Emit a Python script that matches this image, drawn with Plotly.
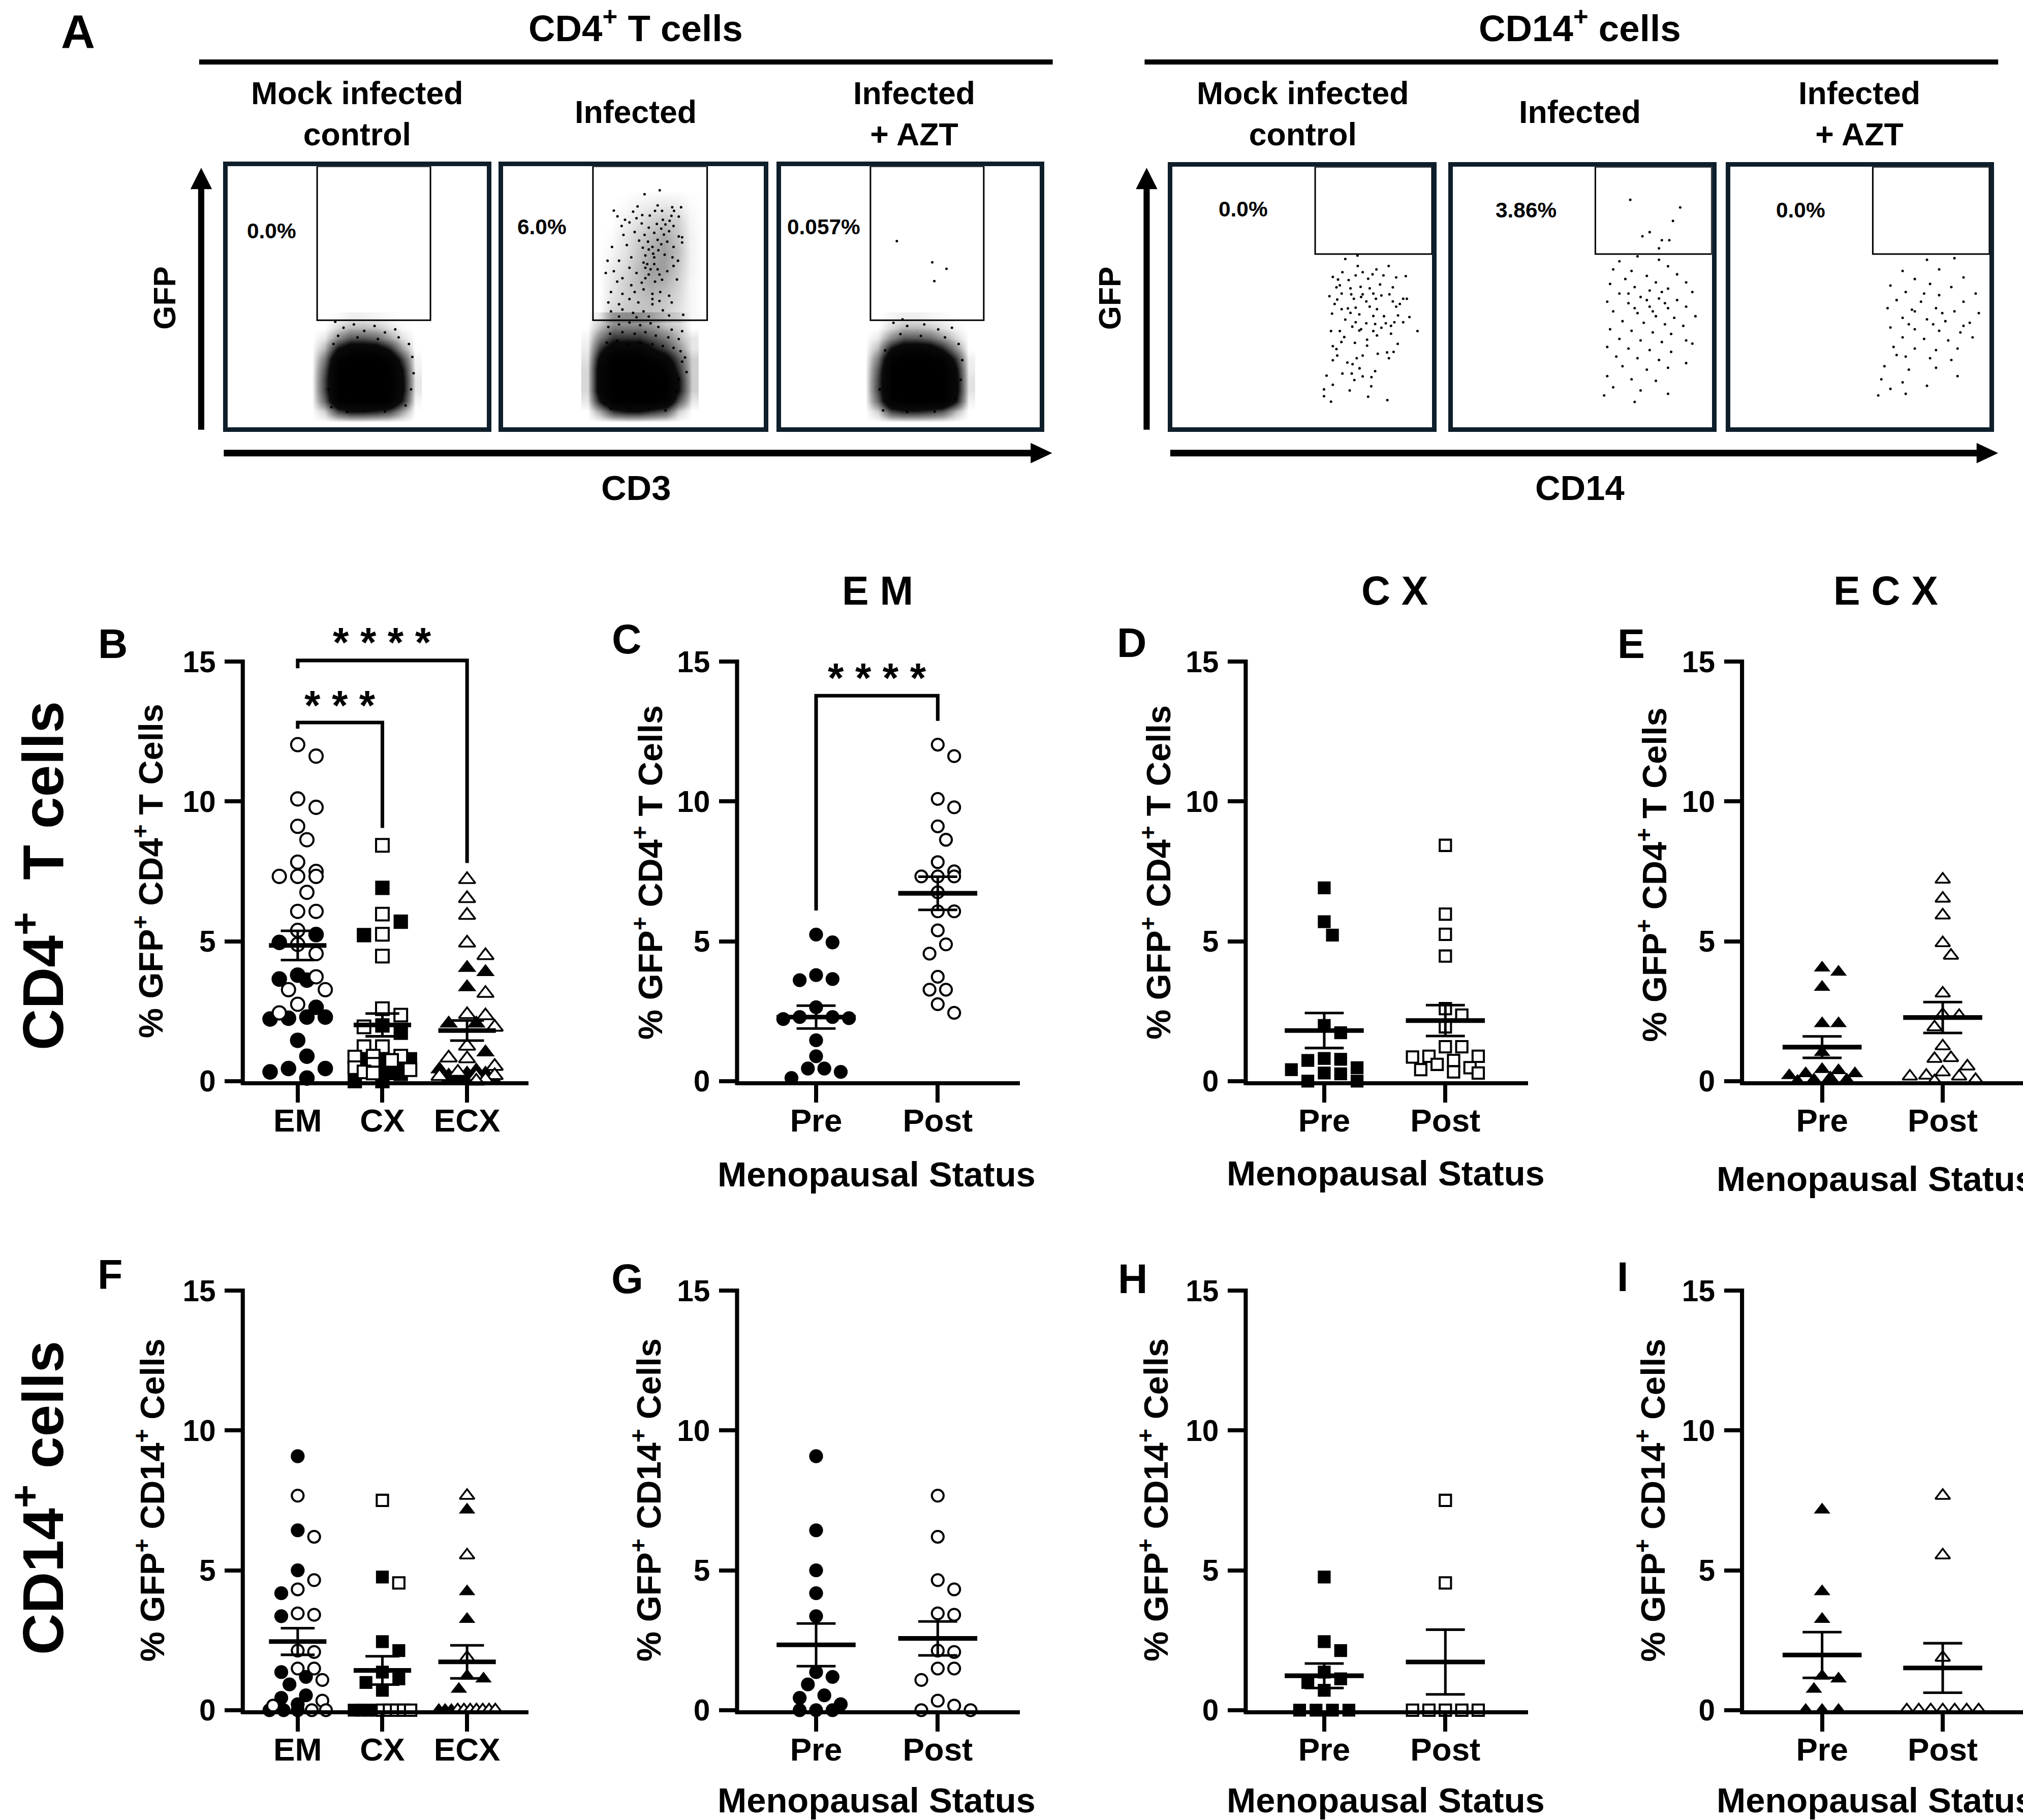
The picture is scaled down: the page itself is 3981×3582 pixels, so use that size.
import math
import statistics
import plotly.graph_objects as go

# ======================= DATA =======================
# % GFP+ cells per donor
em_cd4_pre = [5.24, 4.96, 3.79, 3.61, 3.65, 2.64, 2.22, 2.25, 2.29, 2.29, 1.46, 0.89, 0.33, 0.45, 0.45, 0.11]
em_cd4_post = [12.03, 11.62, 10.09, 9.79, 9.11, 8.63, 7.83, 7.50, 7.32, 7.32, 7.32, 6.75, 6.07, 6.07,
               5.39, 4.89, 4.56, 3.73, 3.27, 3.27, 2.75, 2.44]
cx_cd4_pre = [6.91, 5.70, 5.22, 1.99, 1.73, 0.81, 0.78, 0.74, 0.48, 0.41, 0.29, 0.26, 0.0, 0.0]
cx_cd4_post = [8.43, 5.97, 5.25, 4.47, 2.59, 2.36, 1.94, 1.23, 1.23, 0.89, 0.89, 0.86, 0.74, 0.60,
               0.48, 0.41, 0.33, 0.29]
ecx_cd4_pre = [4.05, 3.90, 3.36, 2.06, 2.06, 1.03, 0.42, 0.38, 0.27, 0.27, 0.20, 0.12, 0.05, 0.05, 0.0]
ecx_cd4_post = [7.21, 6.53, 5.93, 4.94, 4.49, 3.14, 2.38, 2.34, 1.93, 1.25, 0.83, 0.80, 0.53, 0.32,
                0.20, 0.17, 0.17, 0.05, 0.0]

em_cd14_pre = [9.08, 6.43, 5.00, 4.18, 3.36, 1.36, 1.19, 0.92, 0.53, 0.44, 0.21, 0.0, 0.0, 0.0]
em_cd14_post = [7.67, 6.20, 4.65, 4.32, 3.46, 3.41, 2.13, 2.08, 1.49, 1.49, 1.08, 0.34, 0.16, 0.0, 0.0]
cx_cd14_pre = [4.76, 2.45, 2.13, 1.36, 1.12, 0.99, 0.71, 0.0, 0.0, 0.0, 0.0]
cx_cd14_post = [7.50, 4.55, 0.0, 0.0, 0.0, 0.0, 0.0]
ecx_cd14_pre = [7.16, 4.24, 3.25, 1.22, 1.12, 0.75, 0.0, 0.0, 0.0]
ecx_cd14_post = [7.67, 5.54, 1.88, 0.0, 0.0, 0.0, 0.0, 0.0, 0.0, 0.0]

tissue_labels = ["EM", "CX", "ECX"]
status_labels = ["Pre", "Post"]
y_ticks = [0, 5, 10, 15]

# significance brackets: (from cat, to cat, bar y, left end y, right end y, stars, stars y)
sig_B = [(0, 2, 15.04, 14.76, 7.8, "****", 16.0),
         (0, 1, 12.82, 12.6, 9.05, "***", 13.75)]
sig_C = [(0, 1, 13.78, 6.1, 12.88, "****", 14.73)]

# ---- flow cytometry (linear channel units 0-1000) ----
flow_pct = {"cd4": ["0.0%", "6.0%", "0.057%"], "cd14": ["0.0%", "3.86%", "0.0%"]}
cd4_gate = (345, 783, 410, 1000)
cd14_gate = (550, 1000, 665, 1000)
grid_x = [325, 375, 425, 475, 525, 575, 625, 675, 725]
grid_y = [20, 60, 100, 140, 180, 220, 260, 300, 340, 380, 420]
cd4_mock_density = [
    [0.00, 0.00, 0.00, 0.00, 0.00, 0.00, 0.00, 0.00, 0.00],
    [0.00, 0.10, 0.45, 0.60, 0.60, 0.55, 0.45, 0.20, 0.00],
    [0.00, 0.35, 0.95, 1.00, 1.00, 1.00, 1.00, 0.55, 0.02],
    [0.00, 0.45, 1.00, 1.00, 1.00, 1.00, 1.00, 0.65, 0.05],
    [0.00, 0.45, 1.00, 1.00, 1.00, 1.00, 1.00, 0.65, 0.05],
    [0.00, 0.40, 1.00, 1.00, 1.00, 1.00, 1.00, 0.60, 0.03],
    [0.00, 0.30, 0.90, 1.00, 1.00, 1.00, 0.90, 0.45, 0.02],
    [0.00, 0.15, 0.60, 0.80, 0.80, 0.75, 0.55, 0.20, 0.00],
    [0.00, 0.05, 0.25, 0.40, 0.40, 0.35, 0.20, 0.06, 0.00],
    [0.00, 0.00, 0.08, 0.15, 0.15, 0.12, 0.06, 0.01, 0.00],
    [0.00, 0.00, 0.01, 0.03, 0.03, 0.02, 0.01, 0.00, 0.00]]
cd4_inf_density = [
    [0.00, 0.00, 0.00, 0.00, 0.00, 0.00, 0.00, 0.00, 0.00],
    [0.00, 0.20, 0.50, 0.60, 0.60, 0.50, 0.40, 0.10, 0.00],
    [0.05, 0.60, 1.00, 1.00, 1.00, 1.00, 0.90, 0.40, 0.05],
    [0.08, 0.80, 1.00, 1.00, 1.00, 1.00, 1.00, 0.60, 0.10],
    [0.08, 0.80, 1.00, 1.00, 1.00, 1.00, 1.00, 0.60, 0.10],
    [0.08, 0.80, 1.00, 1.00, 1.00, 1.00, 0.90, 0.50, 0.10],
    [0.06, 0.70, 1.00, 1.00, 1.00, 0.90, 0.70, 0.40, 0.10],
    [0.04, 0.50, 0.80, 0.80, 0.80, 0.60, 0.45, 0.25, 0.05],
    [0.02, 0.30, 0.50, 0.50, 0.50, 0.40, 0.30, 0.15, 0.05],
    [0.00, 0.15, 0.30, 0.30, 0.30, 0.25, 0.15, 0.10, 0.00],
    [0.00, 0.05, 0.15, 0.15, 0.15, 0.10, 0.05, 0.05, 0.00]]
cd4_azt_density = [
    [0.00, 0.00, 0.00, 0.00, 0.00, 0.00, 0.00, 0.00, 0.00],
    [0.00, 0.10, 0.45, 0.55, 0.55, 0.50, 0.40, 0.15, 0.00],
    [0.00, 0.35, 0.95, 1.00, 1.00, 1.00, 1.00, 0.60, 0.03],
    [0.00, 0.45, 1.00, 1.00, 1.00, 1.00, 1.00, 0.70, 0.06],
    [0.00, 0.45, 1.00, 1.00, 1.00, 1.00, 1.00, 0.70, 0.06],
    [0.00, 0.40, 1.00, 1.00, 1.00, 1.00, 1.00, 0.65, 0.04],
    [0.00, 0.30, 0.90, 1.00, 1.00, 1.00, 0.90, 0.50, 0.03],
    [0.00, 0.15, 0.60, 0.80, 0.80, 0.75, 0.55, 0.25, 0.00],
    [0.00, 0.05, 0.25, 0.40, 0.40, 0.35, 0.22, 0.08, 0.00],
    [0.00, 0.00, 0.08, 0.15, 0.15, 0.12, 0.06, 0.02, 0.00],
    [0.00, 0.00, 0.02, 0.03, 0.03, 0.02, 0.01, 0.00, 0.00]]
gate_grid_x = [370, 420, 470, 520, 570, 620, 670, 720, 770]
gate_grid_y = [430, 490, 550, 610, 670, 730, 790, 850, 910]
cd4_inf_gate_density = [
    [0.00, 0.10, 0.12, 0.12, 0.12, 0.10, 0.06, 0.02, 0.00],
    [0.00, 0.06, 0.10, 0.12, 0.14, 0.12, 0.08, 0.02, 0.00],
    [0.00, 0.05, 0.10, 0.14, 0.18, 0.16, 0.10, 0.02, 0.00],
    [0.00, 0.04, 0.08, 0.14, 0.20, 0.20, 0.12, 0.03, 0.00],
    [0.00, 0.02, 0.06, 0.12, 0.18, 0.20, 0.14, 0.03, 0.00],
    [0.00, 0.01, 0.05, 0.10, 0.14, 0.18, 0.12, 0.03, 0.00],
    [0.00, 0.00, 0.03, 0.06, 0.10, 0.12, 0.10, 0.02, 0.00],
    [0.00, 0.00, 0.01, 0.03, 0.04, 0.05, 0.04, 0.01, 0.00],
    [0.00, 0.00, 0.00, 0.00, 0.00, 0.00, 0.00, 0.00, 0.00]]
cd4_mock_events = [
    (415, 404), (447, 381), (487, 394), (527, 369), (567, 388), (607, 363), (647, 375), (426, 350), (501, 344),
    (580, 338), (660, 344), (700, 319), (713, 269), (718, 207), (708, 145), (687, 83), (400, 77), (389, 145),
    (408, 319), (461, 58), (607, 60)]
cd4_inf_events = [
    (601, 908), (543, 893), (593, 850), (649, 843), (683, 843), (516, 846), (425, 830), (499, 826), (583, 829), (610, 829),
    (656, 829), (534, 813), (439, 808), (563, 811), (646, 810), (674, 807), (468, 795), (512, 801), (613, 795), (639, 791),
    (485, 785), (532, 781), (590, 779), (623, 777), (654, 771), (455, 771), (559, 765), (607, 761), (637, 751), (505, 748),
    (543, 737), (580, 745), (617, 738), (674, 731), (687, 728), (462, 737), (522, 715), (556, 711), (593, 718), (630, 711),
    (687, 708), (418, 691), (475, 698), (536, 688), (573, 691), (607, 701), (654, 691), (401, 638), (445, 638), (492, 651),
    (546, 658), (580, 651), (620, 661), (650, 651), (671, 638), (394, 591), (425, 598), (458, 571), (485, 611), (512, 591),
    (553, 625), (566, 605), (600, 585), (630, 598), (654, 618), (438, 558), (492, 544), (532, 554), (546, 571), (583, 558),
    (610, 565), (667, 566), (414, 518), (458, 511), (505, 518), (539, 528), (573, 511), (603, 518), (637, 504), (404, 478),
    (445, 471), (485, 491), (519, 478), (573, 491), (600, 484), (647, 478), (414, 444), (458, 451), (499, 438), (539, 444),
    (573, 471), (613, 448), (637, 428), (691, 431), (445, 424), (512, 421), (559, 424), (546, 611), (580, 625), (559, 585),
    (593, 605), (539, 631), (576, 665), (559, 681), (596, 678),
    (404, 384), (445, 394), (485, 401), (526, 391), (566, 398), (596, 384), (647, 374), (687, 368), (411, 358), (458, 364),
    (505, 358), (546, 364), (586, 351), (634, 344), (674, 338), (398, 324), (438, 331), (479, 318), (526, 324), (573, 318),
    (613, 311), (654, 304), (681, 291), (698, 267), (687, 251), (704, 211), (674, 184), (660, 137), (640, 104), (623, 64),
    (559, 71), (485, 71), (414, 71), (391, 91)]
cd4_azt_events = [
    (447, 713), (584, 632), (639, 607), (592, 560), (469, 413),
    (434, 400), (487, 388), (553, 394), (607, 375), (660, 381), (461, 357), (540, 350), (633, 344), (686, 319), (700, 257),
    (694, 182), (673, 108), (394, 64), (381, 145), (402, 294), (487, 58), (593, 60)]
cd14_mock_events = [
    (666, 646), (713, 659), (714, 619), (833, 619), (786, 606), (655, 595), (733, 595), (771, 587), (706, 583), (618, 577),
    (638, 567), (679, 565), (754, 570), (813, 583), (862, 575), (899, 580), (645, 545), (686, 533), (725, 539), (760, 533),
    (800, 548), (849, 537), (632, 537), (652, 513), (689, 510), (733, 510), (774, 513), (805, 506), (836, 510), (605, 503),
    (635, 490), (699, 493), (727, 500), (747, 483), (784, 493), (889, 493), (903, 493), (849, 483), (876, 473), (625, 473),
    (652, 453), (676, 456), (706, 459), (760, 463), (788, 453), (862, 463), (615, 436), (686, 439), (720, 433), (774, 427),
    (815, 426), (869, 429), (913, 423), (666, 413), (706, 403), (747, 399), (781, 396), (822, 399), (855, 403), (889, 403),
    (693, 386), (727, 376), (805, 382), (842, 389), (611, 369), (645, 369), (720, 371), (774, 369), (842, 359), (944, 369),
    (662, 346), (788, 352), (750, 336), (703, 324), (651, 327), (868, 320), (618, 311), (632, 300), (750, 313), (827, 287),
    (852, 289), (635, 275), (733, 275), (791, 282), (710, 265), (618, 257), (834, 265), (674, 248), (694, 242), (721, 226),
    (781, 215), (655, 206), (691, 206), (733, 195), (767, 192), (594, 198), (701, 181), (618, 163), (766, 157), (584, 145),
    (683, 141), (584, 119), (754, 117), (611, 98), (828, 104)]
cd14_inf_events = [
    (685, 873), (878, 844), (850, 792), (760, 749), (732, 733), (807, 718), (836, 718), (796, 687),
    (713, 656), (643, 637), (796, 643), (619, 606), (690, 600), (831, 618), (749, 581), (866, 587), (666, 569), (784, 556),
    (607, 550), (901, 556), (702, 538), (760, 525), (831, 532), (643, 513), (925, 519), (725, 500), (796, 494), (866, 488),
    (596, 482), (678, 476), (760, 463), (831, 457), (901, 463), (619, 445), (713, 438), (784, 426), (855, 420), (937, 426),
    (655, 407), (737, 401), (819, 395), (890, 389), (607, 376), (690, 370), (772, 364), (843, 358), (643, 339), (725, 333),
    (807, 327), (901, 333), (596, 308), (678, 302), (760, 296), (843, 289), (631, 271), (713, 265), (796, 258), (655, 234),
    (749, 221), (831, 228), (596, 196), (690, 184), (784, 178), (619, 153), (725, 141), (584, 122), (702, 97), (831, 128),
    (901, 246), (925, 321), (749, 488), (807, 519), (702, 457), (772, 445), (678, 513), (819, 476)]
cd14_azt_events = [
    (759, 643), (865, 649), (665, 600), (806, 606), (712, 569), (900, 575), (618, 544), (771, 550), (853, 538), (947, 513),
    (677, 519), (806, 507), (642, 488), (736, 482), (900, 482), (607, 457), (701, 451), (794, 457), (865, 445), (959, 438),
    (665, 420), (759, 414), (830, 407), (924, 401), (618, 383), (712, 376), (806, 370), (888, 364), (665, 345), (748, 339),
    (841, 333), (935, 345), (630, 308), (712, 302), (794, 296), (877, 302), (677, 271), (771, 265), (853, 258), (595, 234),
    (689, 221), (794, 228), (583, 184), (665, 172), (759, 159), (618, 147), (571, 122), (677, 128), (877, 196), (712, 445),
    (783, 395), (689, 395), (818, 438), (748, 513), (642, 277), (900, 389)]

# ======================= LAYOUT CONSTANTS =======================
# positions are given in reference pixels (3981 x 3582); S compensates the page scale of the viewer
REF_W, REF_H = 3981, 3582
S = 4021 / 3981
W, H = round(REF_W * S), round(REF_H * S)
FONT = "Liberation Sans, Arial, Helvetica, sans-serif"
NAVY = "#0e1e2a"


def s(v):
    return v * S


def fx(p):
    return p / REF_W


def fy(p):
    return 1.0 - p / REF_H


COL_AXIS = [473, 1436, 2427, 3394]
COL_RIGHT = [1030, 1987, 2977, 3947]
COL_CAT0 = [580, 1590, 2580, 3550]
COL_PPU = [165, 237, 236, 235]
ROW_ZERO = [2126, 3363]
PPU_Y = 55.0
YTOP = 16.4

STYLE = {
    ("circle", False): dict(symbol="circle", size=27, color="black", lw=0),
    ("circle", True): dict(symbol="circle", size=23, color="white", lw=4),
    ("square", False): dict(symbol="square", size=25, color="black", lw=0),
    ("square", True): dict(symbol="square", size=22, color="white", lw=4),
    ("triangle-up", False): dict(symbol="triangle-up", size=28, color="black", lw=0),
    ("triangle-up", True): dict(symbol="triangle-up", size=25, color="white", lw=3.5),
}

CD4_TITLE = "% GFP<sup>+</sup> CD4<sup>+</sup> T Cells"
CD14_TITLE = "% GFP<sup>+</sup> CD14<sup>+</sup> Cells"

panels = [
    dict(k=1, col=0, row=0, letter="B", cats=tissue_labels, ytitle=CD4_TITLE, sigs=sig_B, mscale=1.12,
         groups=[[(em_cd4_pre, "circle", False), (em_cd4_post, "circle", True)],
                 [(cx_cd4_pre, "square", False), (cx_cd4_post, "square", True)],
                 [(ecx_cd4_pre, "triangle-up", False), (ecx_cd4_post, "triangle-up", True)]]),
    dict(k=2, col=1, row=0, letter="C", cats=status_labels, ytitle=CD4_TITLE, sigs=sig_C, mscale=1.0,
         groups=[[(em_cd4_pre, "circle", False)], [(em_cd4_post, "circle", True)]]),
    dict(k=3, col=2, row=0, letter="D", cats=status_labels, ytitle=CD4_TITLE, sigs=[], mscale=1.0,
         groups=[[(cx_cd4_pre, "square", False)], [(cx_cd4_post, "square", True)]]),
    dict(k=4, col=3, row=0, letter="E", cats=status_labels, ytitle=CD4_TITLE, sigs=[], mscale=1.0,
         groups=[[(ecx_cd4_pre, "triangle-up", False)], [(ecx_cd4_post, "triangle-up", True)]]),
    dict(k=5, col=0, row=1, letter="F", cats=tissue_labels, ytitle=CD14_TITLE, sigs=[], mscale=1.0,
         groups=[[(em_cd14_pre, "circle", False), (em_cd14_post, "circle", True)],
                 [(cx_cd14_pre, "square", False), (cx_cd14_post, "square", True)],
                 [(ecx_cd14_pre, "triangle-up", False), (ecx_cd14_post, "triangle-up", True)]]),
    dict(k=6, col=1, row=1, letter="G", cats=status_labels, ytitle=CD14_TITLE, sigs=[], mscale=1.0,
         groups=[[(em_cd14_pre, "circle", False)], [(em_cd14_post, "circle", True)]]),
    dict(k=7, col=2, row=1, letter="H", cats=status_labels, ytitle=CD14_TITLE, sigs=[], mscale=1.0,
         groups=[[(cx_cd14_pre, "square", False)], [(cx_cd14_post, "square", True)]]),
    dict(k=8, col=3, row=1, letter="I", cats=status_labels, ytitle=CD14_TITLE, sigs=[], mscale=1.0,
         groups=[[(ecx_cd14_pre, "triangle-up", False)], [(ecx_cd14_post, "triangle-up", True)]]),
]

LETTER_POS = {"B": (220, 1266), "C": (1221, 1257), "D": (2205, 1264), "E": (3178, 1266),
              "F": (214, 2507), "G": (1222, 2515), "H": (2207, 2515), "I": (3161, 2511)}
YTITLE_POS = {1: (290, 1713), 2: (1263, 1716), 3: (2253, 1716), 4: (3219, 1720),
              5: (293, 2950), 6: (1260, 2950), 7: (2248, 2950), 8: (3216, 2950)}
XTITLE_POS = {2: (1708, 2310), 3: (2700, 2308), 4: (3654, 2319),
              6: (1708, 3541), 7: (2700, 3541), 8: (3654, 3541)}
SECTIONS = [("E M", 1710, 1162), ("C X", 2717, 1162), ("E C X", 3674, 1162)]

fig = go.Figure()
layout = dict(width=W, height=H, margin=dict(l=0, r=0, t=0, b=0), paper_bgcolor="white",
              plot_bgcolor="rgba(0,0,0,0)", showlegend=False, font=dict(family=FONT, color="black"))
shapes, annotations = [], []


def bold(size):
    return dict(family=FONT, size=s(size), color="black", weight="bold")


def add_text(text, x, y, size, angle=0):
    annotations.append(dict(text=text, x=fx(x), y=fy(y), xref="paper", yref="paper", showarrow=False,
                            textangle=angle, xanchor="center", yanchor="middle", font=bold(size)))


def ax_ids(k):
    sfx = "" if k == 1 else str(k)
    return "xaxis" + sfx, "yaxis" + sfx, "x" + sfx, "y" + sfx


def swarm_offsets(vals, ppu_x, maxhalf, diam=28.0, step=32.0):
    n = len(vals)
    order = sorted(range(n), key=lambda i: -vals[i])
    counts = {}
    for v in vals:
        counts[v] = counts.get(v, 0) + 1
    offs = [0.0] * n
    placed, done = [], set()
    kmax = int(maxhalf // (step / 2))
    cands = [0.0]
    for kk in range(1, kmax + 1):
        cands += [kk * step / 2, -kk * step / 2]
    for i in order:
        if i in done:
            continue
        v = vals[i]
        yy = v * PPU_Y
        if counts[v] >= 3:
            grp = [j for j in order if vals[j] == v]
            m = len(grp)
            st = min(step, 2 * maxhalf / (m - 1))
            for q, j in enumerate(grp):
                offs[j] = (q - (m - 1) / 2) * st
                placed.append((offs[j], yy))
                done.add(j)
            continue
        best, bestc, bestd = None, 0.0, -1
        for c in cands:
            d = min((math.hypot(c - px, yy - py) for px, py in placed), default=1e9)
            if d >= diam:
                best = c
                break
            if d > bestd:
                bestd, bestc = d, c
        if best is None:
            best = bestc
        offs[i] = best
        placed.append((best, yy))
        done.add(i)
    return [o / ppu_x for o in offs]


# ======================= SCATTER PANELS B-I =======================
for p in panels:
    xa, ya, xr, yr = ax_ids(p["k"])
    c, r = p["col"], p["row"]
    axp, rgt, c0, ppx = COL_AXIS[c], COL_RIGHT[c], COL_CAT0[c], COL_PPU[c]
    zero = ROW_ZERO[r]
    r0 = -(c0 - axp) / ppx
    r1 = r0 + (rgt - axp) / ppx
    layout[xa] = dict(domain=[fx(axp), fx(rgt)], range=[r0, r1], anchor=yr, showline=True, linewidth=s(8),
                      linecolor="black", ticks="outside", ticklen=s(34), tickwidth=s(8), tickcolor="black",
                      tickmode="array", tickvals=list(range(len(p["cats"]))), ticktext=p["cats"],
                      tickfont=bold(63), ticklabelstandoff=int(round(s(-20))), showgrid=False, zeroline=False,
                      fixedrange=True)
    layout[ya] = dict(domain=[fy(zero), fy(zero - YTOP * PPU_Y)], range=[0, YTOP], anchor=xr, showline=False,
                      ticks="outside", ticklen=s(34), tickwidth=s(8), tickcolor="black", tickmode="array",
                      tickvals=y_ticks, ticktext=[str(t) for t in y_ticks], tickfont=bold(58),
                      ticklabelstandoff=int(round(s(6))), showgrid=False, zeroline=False, fixedrange=True)
    shapes.append(dict(type="line", xref="paper", yref="paper", x0=fx(axp), x1=fx(axp),
                       y0=fy(zero + 8), y1=fy(zero - 15 * PPU_Y - 4), line=dict(color="black", width=s(8))))

    three = len(p["cats"]) == 3
    maxhalf = 55 if three else 70
    mean_half = (56 if three else 77) / ppx
    sem_half = (33 if three else 38) / ppx
    for ci, subs in enumerate(p["groups"]):
        allv, styles = [], []
        for vals, sym, is_open in subs:
            for v in vals:
                allv.append(v)
                styles.append((sym, is_open))
        offs = swarm_offsets(allv, ppx, maxhalf, diam=28.0 * p["mscale"], step=32.0 * p["mscale"])
        for st in dict.fromkeys(styles):
            idx = [i for i in range(len(allv)) if styles[i] == st]
            sd = STYLE[st]
            mk = dict(symbol=sd["symbol"], size=s(sd["size"] * p["mscale"]), color=sd["color"],
                      line=dict(color="black", width=s(sd["lw"])))
            fig.add_trace(go.Scatter(x=[ci + offs[i] for i in idx], y=[allv[i] for i in idx], mode="markers",
                                     marker=mk, xaxis=xr, yaxis=yr, cliponaxis=False, hoverinfo="skip"))
        m = statistics.mean(allv)
        se = statistics.stdev(allv) / math.sqrt(len(allv))
        fig.add_trace(go.Scatter(x=[ci - sem_half, ci + sem_half, None, ci, ci, None, ci - sem_half, ci + sem_half],
                                 y=[m + se, m + se, None, m + se, m - se, None, m - se, m - se], mode="lines",
                                 line=dict(color="black", width=s(5)), xaxis=xr, yaxis=yr, hoverinfo="skip"))
        fig.add_trace(go.Scatter(x=[ci - mean_half, ci + mean_half], y=[m, m], mode="lines",
                                 line=dict(color="black", width=s(9)), xaxis=xr, yaxis=yr, hoverinfo="skip"))
    for (a, b, ybar, yl, yrr, stars, ys) in p["sigs"]:
        fig.add_trace(go.Scatter(x=[a, a, b, b], y=[yl, ybar, ybar, yrr], mode="lines",
                                 line=dict(color="black", width=s(7)), xaxis=xr, yaxis=yr, hoverinfo="skip"))
        annotations.append(dict(text=" ".join(stars), x=(a + b) / 2, y=ys, xref=xr, yref=yr, showarrow=False,
                                xanchor="center", yanchor="middle", yshift=s(-17), font=bold(80)))
    lx, ly = LETTER_POS[p["letter"]]
    add_text(p["letter"], lx, ly, 80)
    tx, ty = YTITLE_POS[p["k"]]
    add_text(p["ytitle"], tx, ty, 66, angle=-90)
    if p["k"] in XTITLE_POS:
        mx, my = XTITLE_POS[p["k"]]
        add_text("Menopausal Status", mx, my, 68)

for txt, sx, sy in SECTIONS:
    add_text(txt, sx, sy, 78)

add_text("CD4<sup>+</sup>\u00a0\u00a0T cells", 76, 1722, 112, angle=-90)
add_text("CD14<sup>+</sup> cells", 76, 2946, 112, angle=-90)

# ======================= PANEL A: FLOW PLOTS =======================
BLOB_SCALE = [[0, "rgba(0,0,0,0)"], [0.2, "rgba(0,0,0,0.38)"], [0.6, "rgba(0,0,0,0.96)"], [1, "rgba(0,0,0,1)"]]
flow = [
    dict(k=9, box=(444, 948, 327, 840), gate=cd4_gate, dens=cd4_mock_density, gdens=None, ev=cd4_mock_events,
         label=flow_pct["cd4"][0], lpos=(169, 752)),
    dict(k=10, box=(980, 1488, 327, 840), gate=cd4_gate, dens=cd4_inf_density, gdens=cd4_inf_gate_density,
         ev=cd4_inf_events, label=flow_pct["cd4"][1], lpos=(150, 768)),
    dict(k=11, box=(1522, 2026, 327, 840), gate=cd4_gate, dens=cd4_azt_density, gdens=None, ev=cd4_azt_events,
         label=flow_pct["cd4"][2], lpos=(165, 768)),
    dict(k=12, box=(2284, 2790, 328, 840), gate=cd14_gate, dens=None, gdens=None, ev=cd14_mock_events,
         label=flow_pct["cd14"][0], lpos=(273, 838)),
    dict(k=13, box=(2831, 3335, 328, 840), gate=cd14_gate, dens=None, gdens=None, ev=cd14_inf_events,
         label=flow_pct["cd14"][1], lpos=(282, 834)),
    dict(k=14, box=(3371, 3876, 328, 840), gate=cd14_gate, dens=None, gdens=None, ev=cd14_azt_events,
         label=flow_pct["cd14"][2], lpos=(271, 834)),
]
for f in flow:
    xa, ya, xr, yr = ax_ids(f["k"])
    x0, x1, y0, y1 = f["box"]
    common = dict(range=[0, 1000], showline=True, mirror=True, linewidth=s(9), linecolor=NAVY, ticks="",
                  showticklabels=False, showgrid=False, zeroline=False, fixedrange=True)
    layout[xa] = dict(domain=[fx(x0), fx(x1)], anchor=yr, **common)
    layout[ya] = dict(domain=[fy(y1), fy(y0)], anchor=xr, **common)
    if f["dens"] is not None:
        fig.add_trace(go.Heatmap(x=grid_x, y=grid_y, z=f["dens"], zmin=0, zmax=1, zsmooth="best",
                                 colorscale=BLOB_SCALE, showscale=False, xaxis=xr, yaxis=yr, hoverinfo="skip"))
    if f["gdens"] is not None:
        fig.add_trace(go.Heatmap(x=gate_grid_x, y=gate_grid_y, z=f["gdens"], zmin=0, zmax=1, zsmooth="best",
                                 colorscale=BLOB_SCALE, showscale=False, xaxis=xr, yaxis=yr, hoverinfo="skip"))
    if f["ev"]:
        fig.add_trace(go.Scatter(x=[e[0] for e in f["ev"]], y=[e[1] for e in f["ev"]], mode="markers",
                                 marker=dict(size=s(5), color="black", line=dict(width=0)),
                                 xaxis=xr, yaxis=yr, hoverinfo="skip"))
    g = f["gate"]
    shapes.append(dict(type="rect", xref=xr, yref=yr, x0=g[0], x1=g[1], y0=g[2], y1=g[3],
                       line=dict(color="black", width=s(3)), fillcolor="rgba(0,0,0,0)", layer="above"))
    annotations.append(dict(text=f["label"], x=f["lpos"][0], y=f["lpos"][1], xref=xr, yref=yr, showarrow=False,
                            xanchor="center", yanchor="middle", font=bold(42)))

# panel A decorations
add_text("A", 152, 62, 92)
for title, cx, lx0, lx1, ax_x, xa0, xa1, xlabel in [
        ("CD4<sup>+</sup> T cells", 1239, 388, 2051, 392, 436, 2050, "CD3"),
        ("CD14<sup>+</sup> cells", 3078, 2230, 3893, 2234, 2280, 3893, "CD14")]:
    add_text(title, cx, 50, 72)
    shapes.append(dict(type="rect", xref="paper", yref="paper", x0=fx(lx0), x1=fx(lx1), y0=fy(127), y1=fy(117),
                       line=dict(width=0), fillcolor="black"))
    shapes.append(dict(type="line", xref="paper", yref="paper", x0=fx(ax_x), x1=fx(ax_x), y0=fy(845), y1=fy(368),
                       line=dict(color="black", width=s(12))))
    shapes.append(dict(type="path", xref="paper", yref="paper",
                       path=f"M {fx(ax_x)},{fy(330)} L {fx(ax_x - 21)},{fy(372)} L {fx(ax_x + 21)},{fy(372)} Z",
                       fillcolor="black", line=dict(width=0)))
    shapes.append(dict(type="line", xref="paper", yref="paper", x0=fx(xa0), x1=fx(xa1 - 38), y0=fy(891), y1=fy(891),
                       line=dict(color="black", width=s(13))))
    shapes.append(dict(type="path", xref="paper", yref="paper",
                       path=f"M {fx(xa1)},{fy(891)} L {fx(xa1 - 42)},{fy(871)} L {fx(xa1 - 42)},{fy(911)} Z",
                       fillcolor="black", line=dict(width=0)))
    add_text(xlabel, cx, 960, 68)
    add_text("GFP", ax_x - 71, 586, 60, angle=-90)

for txt, sx in [("Mock infected<br>control", 696), ("Infected", 1239), ("Infected<br>+ AZT", 1781),
                ("Mock infected<br>control", 2538), ("Infected", 3078), ("Infected<br>+ AZT", 3623)]:
    add_text(txt, sx, 223 if "<br>" in txt else 220, 62)

layout["shapes"] = shapes
layout["annotations"] = annotations
fig.update_layout(**layout)
fig.write_html("out.html", config={"displayModeBar": False},
               post_script="document.body.style.margin='0';")
